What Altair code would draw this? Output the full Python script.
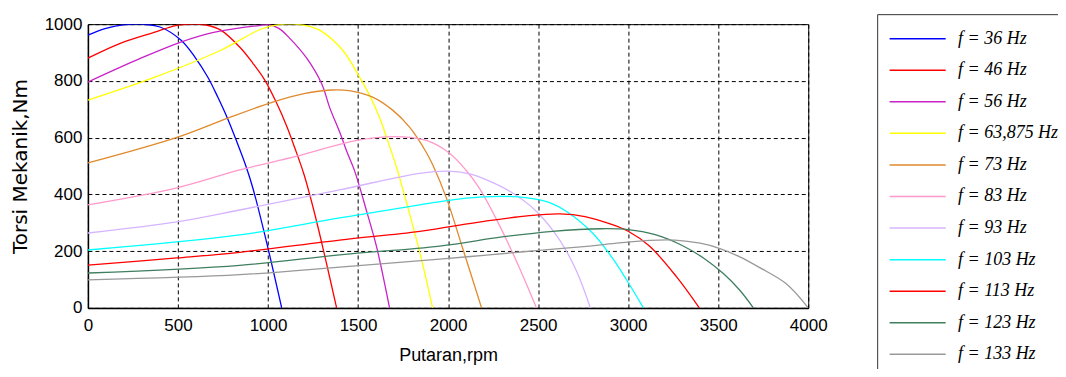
import altair as alt
import pandas as pd

# ---- data (rpm, torque Nm) ----
labels = ["f = 36 Hz", "f = 46 Hz", "f = 56 Hz", "f = 63,875 Hz", "f = 73 Hz",
          "f = 83 Hz", "f = 93 Hz", "f = 103 Hz", "f = 113 Hz", "f = 123 Hz", "f = 133 Hz"]
colors = ["#0000FF", "#FF0000", "#C822C8", "#FFFF00", "#E08A2C",
          "#FF99CC", "#D6B4FF", "#00FFFF", "#FF0000", "#3F7F5F", "#999999"]

rpm_36 = [0, 100, 205, 300, 400, 516, 594, 666, 721, 777, 821, 880, 917, 993, 1076]
tq_36 = [961, 985, 998, 1000, 990, 944, 884, 813, 743, 665, 595, 495, 420, 229, 0]

rpm_46 = [0, 183, 372, 488, 580, 655, 738, 849, 915, 982, 1048, 1104, 1148, 1200, 1260, 1320, 1381]
tq_46 = [880, 933, 972, 995, 1000, 997, 979, 915, 863, 803, 722, 640, 565, 470, 330, 170, 0]

rpm_56 = [0, 294, 516, 705, 960, 1000, 1060, 1121, 1215, 1298, 1343, 1398, 1437, 1481, 1548, 1603, 1675]
tq_56 = [796, 880, 937, 972, 996, 998, 985, 950, 880, 790, 705, 620, 552, 483, 340, 215, 0]

rpm_64 = [0, 372, 738, 960, 1060, 1150, 1240, 1304, 1415, 1498, 1565, 1620, 1659, 1714, 1748, 1804, 1853, 1914]
tq_64 = [732, 813, 908, 982, 998, 1000, 990, 972, 908, 825, 748, 670, 600, 495, 420, 290, 170, 0]

rpm_73 = [0, 499, 777, 1026, 1200, 1350, 1450, 1581, 1692, 1786, 1881, 1914, 1992, 2081, 2186]
tq_73 = [511, 602, 669, 725, 755, 768, 766, 743, 697, 637, 546, 505, 385, 210, 0]

rpm_83 = [0, 494, 843, 1160, 1454, 1600, 1750, 1880, 2008, 2100, 2175, 2286, 2397, 2491]
tq_83 = [363, 423, 486, 535, 585, 600, 603, 590, 545, 485, 420, 290, 140, 0]

rpm_93 = [0, 494, 843, 1398, 1842, 2000, 2120, 2214, 2358, 2491, 2619, 2713, 2790]
tq_93 = [264, 303, 345, 416, 474, 482, 472, 451, 405, 340, 240, 130, 0]

rpm_103 = [0, 843, 1398, 1842, 2100, 2300, 2440, 2560, 2658, 2802, 2913, 2990, 3085]
tq_103 = [204, 257, 317, 363, 387, 393, 388, 372, 340, 264, 175, 100, 0]

rpm_113 = [0, 494, 843, 1398, 1842, 2200, 2450, 2620, 2760, 2900, 3000, 3118, 3268, 3395]
tq_113 = [151, 176, 196, 239, 270, 305, 325, 331, 322, 296, 270, 218, 110, 0]

rpm_123 = [0, 843, 1398, 1953, 2300, 2580, 2850, 3000, 3150, 3300, 3420, 3530, 3620, 3695]
tq_123 = [123, 150, 187, 218, 250, 270, 279, 276, 258, 220, 175, 120, 62, 0]

rpm_133 = [0, 843, 1398, 1953, 2214, 2491, 2769, 2951, 3120, 3260, 3400, 3506, 3620, 3728, 3878, 4000]
tq_133 = [99, 117, 144, 172, 186, 202, 217, 229, 238, 239, 228, 210, 180, 143, 85, 0]

x_ticks = [0, 500, 1000, 1500, 2000, 2500, 3000, 3500, 4000]
y_ticks = [0, 200, 400, 600, 800, 1000]

series = [(rpm_36, tq_36), (rpm_46, tq_46), (rpm_56, tq_56), (rpm_64, tq_64),
          (rpm_73, tq_73), (rpm_83, tq_83), (rpm_93, tq_93), (rpm_103, tq_103),
          (rpm_113, tq_113), (rpm_123, tq_123), (rpm_133, tq_133)]

rows = []
for lab, (xs, ys) in zip(labels, series):
    for i, (xv, yv) in enumerate(zip(xs, ys)):
        rows.append({"freq": lab, "rpm": xv, "torque": yv, "order": i})
df = pd.DataFrame(rows)

tick_font = "Liberation Sans"

chart = alt.Chart(df).mark_line(strokeWidth=1.3, interpolate="catmull-rom", clip=True).encode(
    x=alt.X("rpm:Q", scale=alt.Scale(domain=[0, 4000], nice=False),
            axis=alt.Axis(values=x_ticks, title="Putaran,rpm", format="d", labelFlush=False)),
    y=alt.Y("torque:Q", scale=alt.Scale(domain=[0, 1000], nice=False),
            axis=alt.Axis(values=y_ticks, title="Torsi Mekanik,Nm", format="d", labelFlush=False)),
    color=alt.Color("freq:N", sort=labels,
                    scale=alt.Scale(domain=labels, range=colors),
                    legend=alt.Legend(
                        title=None, orient="none", legendX=790, legendY=-10,
                        strokeColor="#333333", fillColor="white", padding=14,
                        symbolType="M-3,0H3", symbolSize=350, symbolStrokeWidth=1.5,
                        symbolOffset=16, labelOffset=30,
                        labelFont="Liberation Serif", labelFontStyle="italic",
                        labelFontSize=18, labelColor="black", rowPadding=11.6,
                        labelLimit=300)),
    order="order:Q",
).properties(
    width=721, height=284,
    autosize=alt.AutoSizeParams(type="none"),
    padding={"left": 80, "top": 16, "right": 250, "bottom": 61},
).configure_view(
    stroke="black", strokeWidth=1
).configure_axis(
    grid=True, gridColor="black", gridDash=[4, 3], gridWidth=1, gridOpacity=1,
    domain=True, domainColor="black", domainWidth=1.5,
    ticks=False, labelPadding=6,
    labelFont=tick_font, labelFontSize=17, labelColor="black",
    titleFont=tick_font, titleFontSize=18, titleFontWeight="normal", titleColor="black",
).configure_axisX(
    labelPadding=10, titlePadding=13
).configure_axisY(
    titleFont="DejaVu Sans", titleFontSize=20, titlePadding=14
)

chart.save("out.html", embed_options={"renderer": "svg", "actions": False})
